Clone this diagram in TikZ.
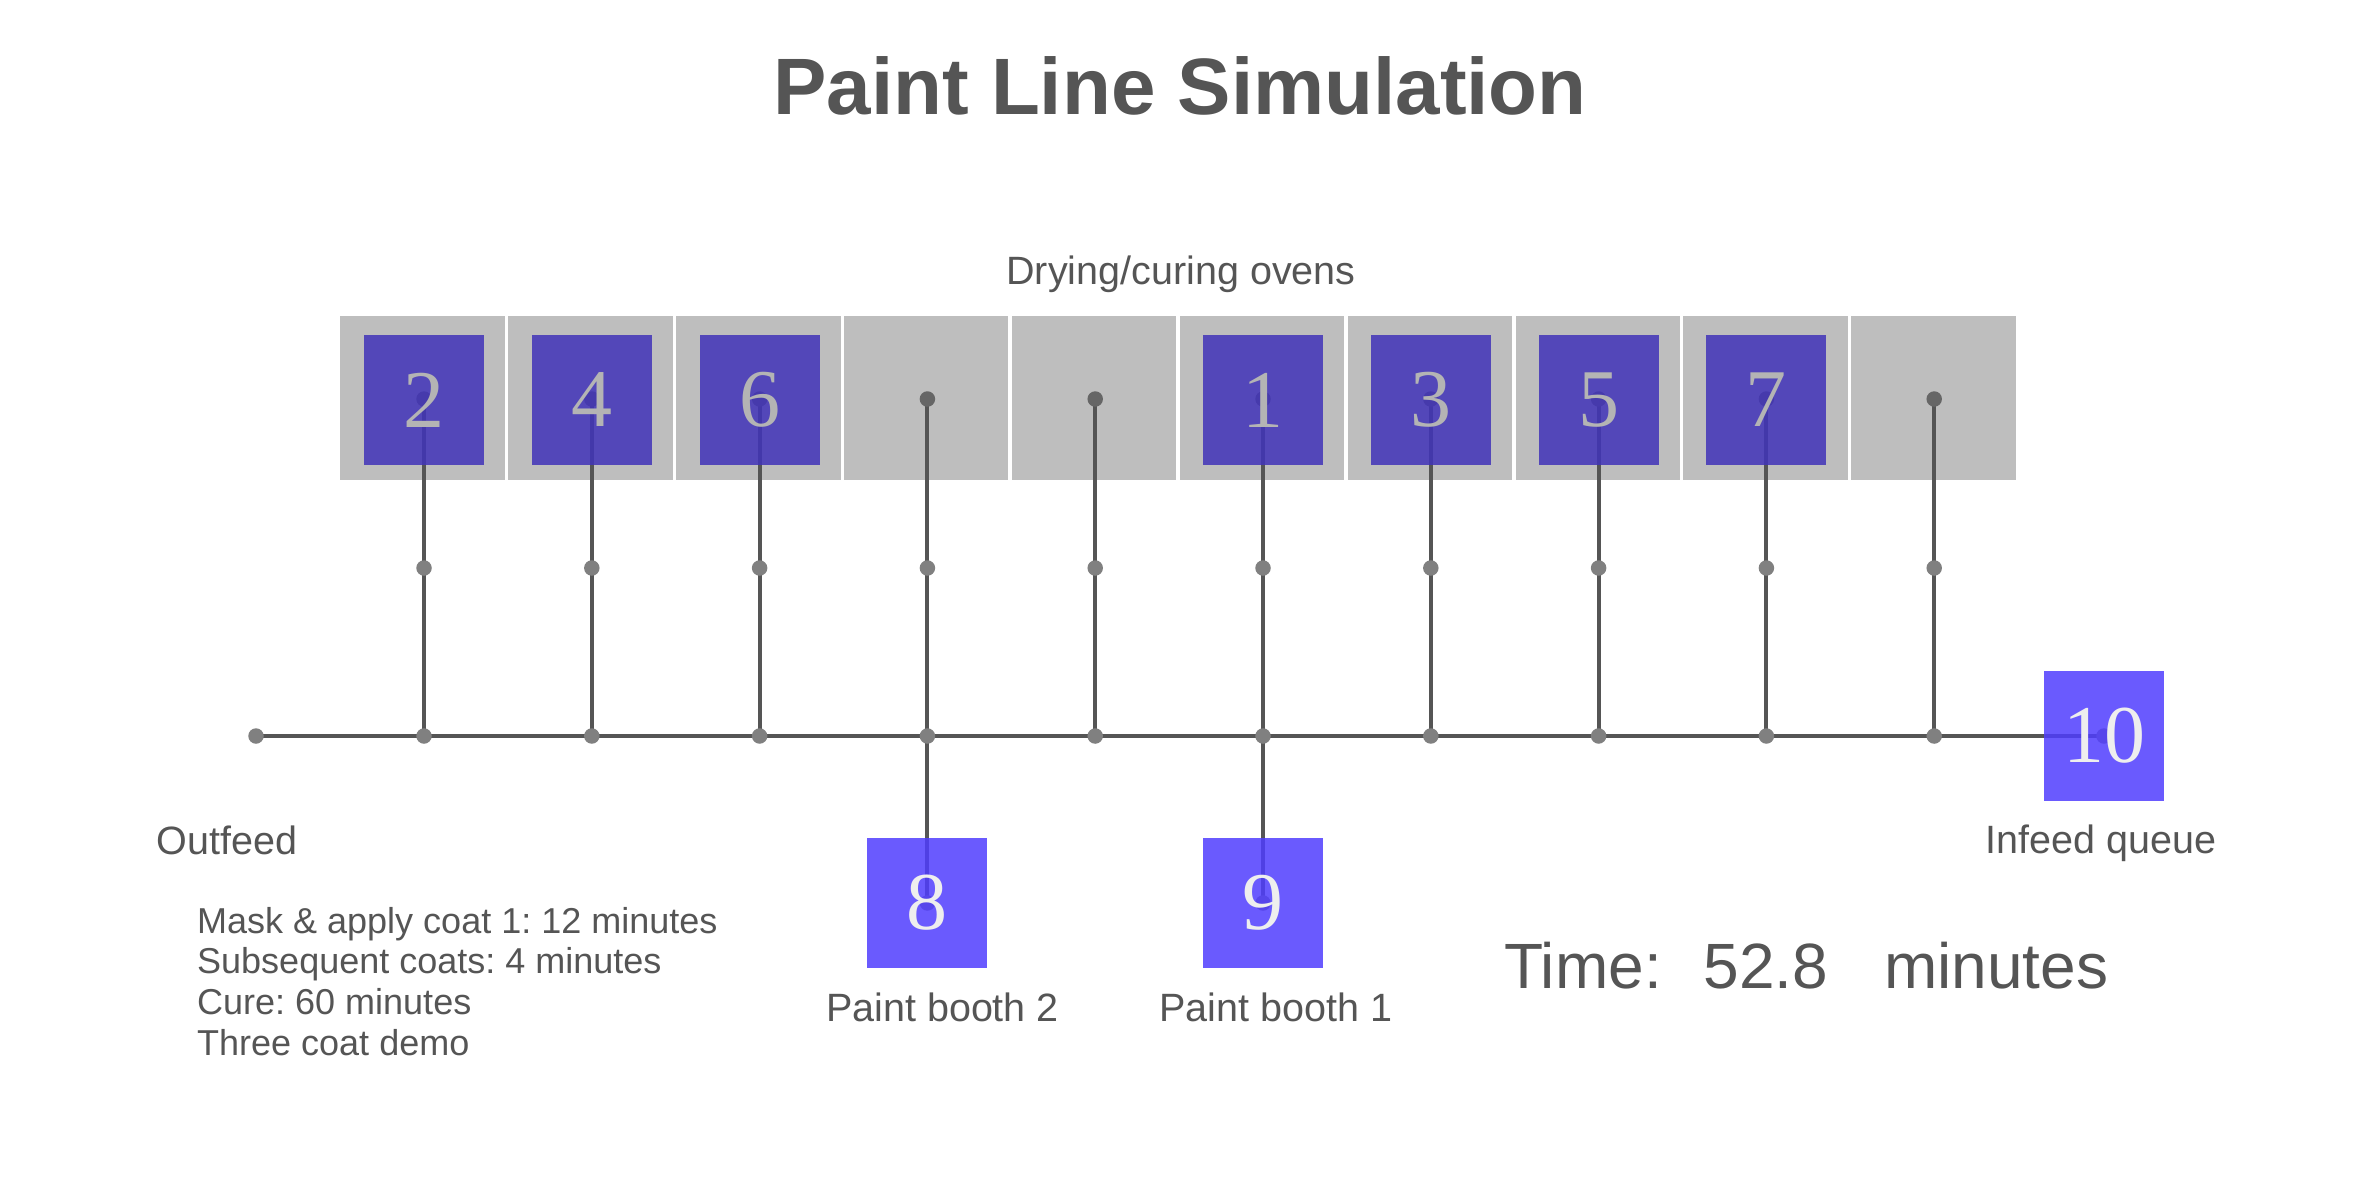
\documentclass[tikz,border=0pt]{standalone}
\usepackage{fontspec}
\setmainfont{Liberation Sans}
\newfontfamily\numfont{Liberation Serif}
\definecolor{ink}{HTML}{555555}
\definecolor{dotc}{HTML}{808080}
\definecolor{celldot}{HTML}{666666}
\definecolor{oven}{HTML}{BEBEBE}
\definecolor{boxout}{RGB}{80,61,254}
\definecolor{boxin}{RGB}{65,51,185}
\definecolor{numout}{HTML}{EEEEEE}
\definecolor{numin}{HTML}{B4B4B4}
\pgfdeclarelayer{ovenlayer}
\pgfdeclarelayer{wirelayer}
\pgfsetlayers{ovenlayer,wirelayer,main}
\frenchspacing
\begin{document}
\begin{tikzpicture}[x=1pt,y=-1pt,
  cell/.style={fill=oven,draw=none,minimum width=164.5pt,minimum height=164pt,inner sep=0pt},
  job/.style={draw=none,minimum width=120pt,minimum height=130pt,inner sep=0pt,
    fill opacity=0.85,text opacity=1,font=\numfont\fontsize{82}{82}\selectfont},
  jobout/.style={job,fill=boxout,text=numout},
  jobin/.style={job,fill=boxin,text=numin},
  wire/.style={draw=ink,line width=4pt},
  dot/.style={circle,fill=dotc,draw=none,minimum size=15.5pt,inner sep=0pt},
  topdot/.style={dot,fill=celldot},
  lbl/.style={text=ink,inner sep=0pt,anchor=base,font=\fontsize{39.5}{47}\selectfont},
  timetxt/.style={text=ink,inner sep=0pt,anchor=base west,font=\fontsize{64}{70}\selectfont}]
\useasboundingbox (0,0) rectangle (2368,1186);

% ovens
\begin{pgfonlayer}{ovenlayer}
\foreach \k in {0,...,9}
  \node[cell] (oven\k) at ({422.5+167.9*\k},398) {};
\end{pgfonlayer}

% coordinates
\foreach \k in {0,...,9} {
  \coordinate (t\k) at ({424+167.8*\k},399);
  \coordinate (m\k) at ({424+167.8*\k},568);
  \coordinate (l\k) at ({424+167.8*\k},736);
}
\coordinate (outf) at (256,736);

% jobs
\node[jobin] (j2) at (424,400) {2};
\node[jobin] (j4) at ({424+167.8*1},400) {4};
\node[jobin] (j6) at ({424+167.8*2},400) {6};
\node[jobin] (j1) at ({424+167.8*5},400) {1};
\node[jobin] (j3) at ({424+167.8*6},400) {3};
\node[jobin] (j5) at ({424+167.8*7},400) {5};
\node[jobin] (j7) at ({424+167.8*8},400) {7};
\node[jobout] (j8) at ({424+167.8*3},903) {8};
\node[jobout] (j9) at ({424+167.8*5},903) {9};
\node[jobout] (j10) at (2104,736) {10};

% wires and dots
\begin{pgfonlayer}{wirelayer}
\draw[wire] (outf) -- (j10.center);
\foreach \k in {0,...,9}
  \draw[wire] (t\k) -- (m\k) -- (l\k);
\draw[wire] (l3) -- (j8.center);
\draw[wire] (l5) -- (j9.center);
\foreach \k in {0,...,9} {
  \node[topdot] (dt\k) at (t\k) {};
  \node[dot] (dm\k) at (m\k) {};
  \node[dot] (dl\k) at (l\k) {};
}
\node[dot] (dout) at (outf) {};
\node[dot] (din) at (j10.center) {};
\node[dot] (d8) at (j8.center) {};
\node[dot] (d9) at (j9.center) {};
\end{pgfonlayer}

% texts
\node[text=ink,inner sep=0pt,anchor=base,font=\bfseries\fontsize{80}{90}\selectfont] (title) at (1180,114) {Paint Line Simulation};
\node[lbl] (ovenlbl) at (1181,284) {Drying/curing ovens};
\node[lbl] (outlbl) at (227,854) {Outfeed};
\node[lbl] (inlbl) at (2101,853) {Infeed queue};
\node[lbl] (pb2) at (942.5,1021) {Paint booth 2};
\node[lbl] (pb1) at (1276,1021) {Paint booth 1};
\node[text=ink,inner sep=0pt,anchor=north west,align=left,font=\fontsize{36}{40.7}\selectfont] (notes) at (197,906.7)
  {Mask \& apply coat 1: 12 minutes\\Subsequent coats: 4 minutes\\Cure: 60 minutes\\Three coat demo};
\node[timetxt] (timelbl) at (1504,988) {Time:};
\node[timetxt] (timeval) at (1703.5,988) {52.8};
\node[timetxt] (timeunit) at (1884,988) {minutes};
\end{tikzpicture}
\end{document}
